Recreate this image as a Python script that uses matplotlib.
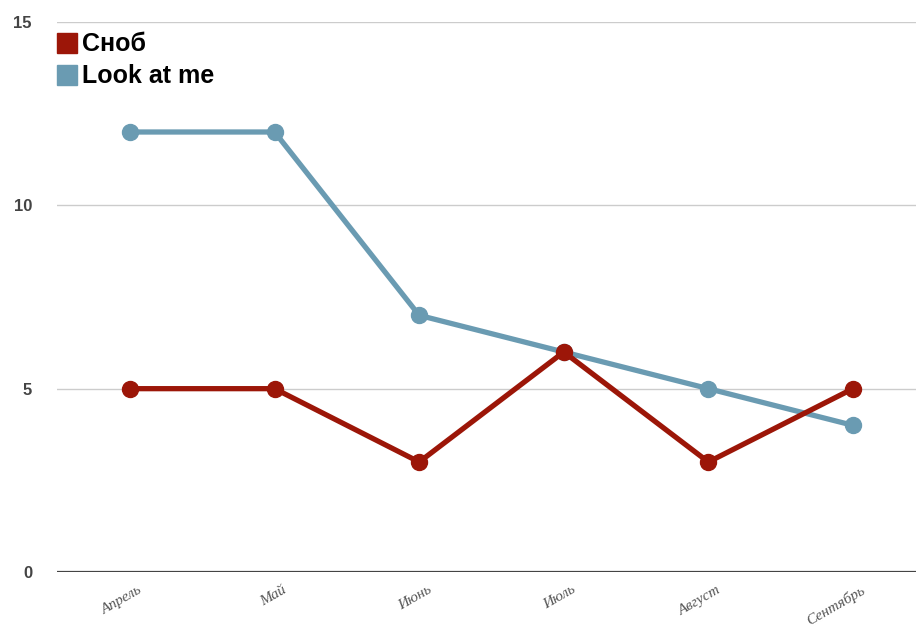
import matplotlib.pyplot as plt
import matplotlib.transforms as mtransforms
from matplotlib.patches import Rectangle

months = ['Апрель', 'Май', 'Июнь', 'Июль', 'Август', 'Сентябрь']
snob = [5, 5, 3, 6, 3, 5]
look_at_me = [12, 12, 7, 6, 5, 4]
series_names = ['Сноб', 'Look at me']
y_ticks = [0, 5, 10, 15]

RED = '#9c1608'
BLUE = '#6a9bb2'

W, H = 916, 626
fig = plt.figure(figsize=(W / 100, H / 100), dpi=100)
ax = fig.add_axes([57 / W, (H - 572) / H, (W - 57) / W, 550 / H])

x = list(range(len(months)))

# grid lines
for t in y_ticks[1:]:
    ax.axhline(t, color='#cccccc', lw=1, zorder=0)
ax.axhline(0, color='#444444', lw=1.6, zorder=1)

ax.plot(x, look_at_me, color=BLUE, lw=3.8, marker='o', ms=11.5,
        solid_capstyle='round', zorder=3)
ax.plot(x, snob, color=RED, lw=3.8, marker='o', ms=11.5,
        solid_capstyle='round', zorder=4)

ax.set_ylim(0, 15)
ax.set_xlim(-0.505, 5.436)
for s in ax.spines.values():
    s.set_visible(False)

ax.set_yticks(y_ticks)
ax.set_yticklabels([str(t) for t in y_ticks], fontsize=12, fontweight='bold',
                   color='#444444', family='Liberation Sans')
ax.tick_params(axis='y', length=0, pad=18)

ax.set_xticks(x)
ax.set_xticklabels(months, rotation=30, ha='right', rotation_mode='anchor',
                   family='Liberation Serif', style='italic', fontsize=11,
                   color='#555555')
ax.tick_params(axis='x', length=0, pad=8)
shift = mtransforms.ScaledTranslation(8 / 100, 0, fig.dpi_scale_trans)
for lbl in ax.get_xticklabels():
    lbl.set_transform(lbl.get_transform() + shift)

# legend
colors = [RED, BLUE]
for i, (name, c) in enumerate(zip(series_names, colors)):
    top = 33 + i * 32
    fig.patches.append(Rectangle((57 / W, 1 - (top + 20) / H), 20 / W, 20 / H,
                                 transform=fig.transFigure, color=c))
    fig.text(82 / W, 1 - (top + 11) / H, name, fontsize=18, fontweight='bold',
             family='Liberation Sans', va='center', ha='left', color='black')

fig.savefig('out.png', dpi=100)
